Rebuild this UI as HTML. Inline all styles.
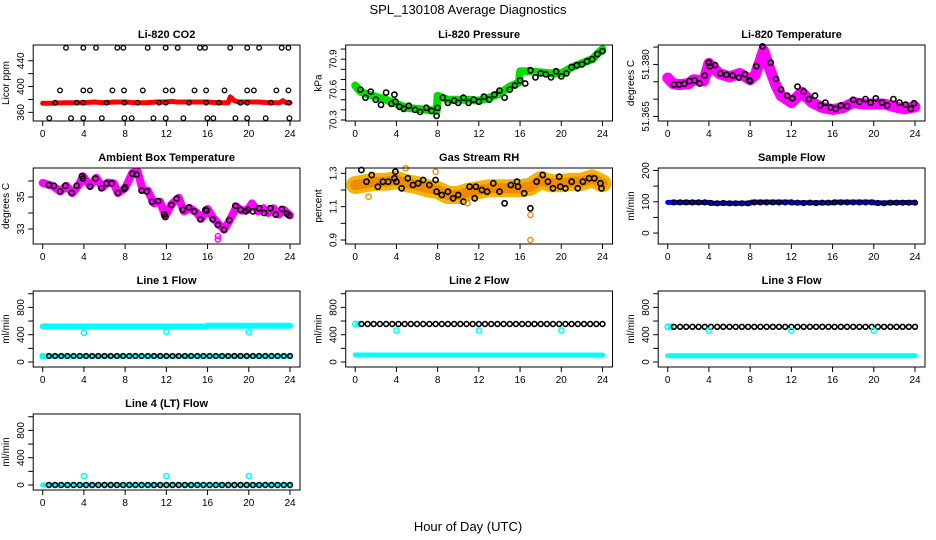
<!DOCTYPE html>
<html><head><meta charset="utf-8">
<style>
html,body{margin:0;padding:0;background:#fff;}
svg{display:block;font-family:"Liberation Sans",Arial,sans-serif;}
</style></head>
<body>
<svg id="chart" width="936" height="540" viewBox="0 0 936 540" xmlns="http://www.w3.org/2000/svg">
<text x="468" y="14" text-anchor="middle" font-size="13">SPL_130108  Average Diagnostics</text>
<text x="468" y="531" text-anchor="middle" font-size="13">Hour of Day (UTC)</text>
</svg>
<script>
// ---------- data ----------
const xTicks = [0,4,8,12,16,20,24];
const co2BandHours = [0,1,2,3,4,5,6,7,8,9,10,11,12,12.5,13,14,15,16,17,18,18.2,18.6,19,20,21,22,23,23.3,23.6,24];
const co2BandVals = [374,374,375,375,375,376,375,376,376,375,375,376,376,377,376,376,376,376,375,375,384,378,376,376,376,375,375,378,375,375];
const co2PtHours = [2.26,3.94,5.17,7.24,7.82,10.19,11.94,13.1,15.26,15.75,18.2,19.85,21.0,23.19,23.84,
 1.68,3.94,4.58,6.76,7.89,9.71,11.94,12.6,14.73,15.86,17.64,19.85,20.5,22.68,23.84,
 1.2,3.3,3.94,6.2,7.93,9.2,11.3,11.94,14.2,15.86,17.1,19.2,19.85,22.16,23.87,
 0.64,2.75,3.94,5.74,7.93,8.64,10.74,11.94,13.65,15.98,16.56,18.7,19.85,21.64,23.94];
const co2PtVals = [460,460,460,460,460,460,460,460,460,460,460,460,460,460,460,
 394,394,394,394,394,394,394,394,394,394,394,394,394,394,394,
 375,375,375,375,375,375,375,375,375,375,375,375,375,375,375,
 351,351,351,351,351,351,351,351,351,351,351,351,351,351,351];

const presBandHours = [0,0.5,1,2,3,4,5,6,7,7.9,8,9,10,11,12,13,14,15,15.9,16,17,18,19,20,21,22,23,23.5,24];
const presBandVals = [70.64,70.58,70.56,70.53,70.5,70.46,70.42,70.41,70.4,70.39,70.54,70.5,70.5,70.5,70.49,70.52,70.56,70.63,70.67,70.78,70.78,70.77,70.76,70.76,70.82,70.86,70.9,70.95,71.0];
const presPtHours = [0.5,1,1.5,2,2.5,3,3.5,3.8,3.9,4.3,4.7,5.2,5.8,6.3,6.9,7.4,7.9,8,8.5,9,9.6,10,10.5,11,11.5,12,12.5,13,13.5,14,14.5,15,15.5,16,16.5,17,17.5,18,18.5,19,19.5,20,20.5,21,21.5,22,22.5,23,23.5,24];
const presPtVals = [70.6,70.52,70.58,70.5,70.45,70.57,70.46,70.55,70.48,70.43,70.41,70.44,70.4,70.38,70.42,70.39,70.34,70.42,70.52,70.47,70.49,70.47,70.52,70.47,70.5,70.48,70.53,70.5,70.55,70.59,70.52,70.6,70.64,70.69,70.66,70.79,70.72,70.76,70.75,70.72,70.78,70.73,70.76,70.82,70.84,70.85,70.88,70.9,70.95,70.98];

const tempBandHours = [0,0.5,1,2,2.5,3.5,4,5,6,7,8,8.5,9,9.3,10,10.5,11,12,13,14,15,16,17,18,19,20,21,22,23,24];
const tempBandVals = [51.3761,51.3745,51.3742,51.3744,51.3756,51.3752,51.3803,51.3774,51.3764,51.3774,51.3756,51.3770,51.3813,51.3840,51.3780,51.3740,51.3710,51.3690,51.3720,51.3690,51.3676,51.3670,51.3675,51.3690,51.3686,51.3686,51.3686,51.3678,51.3672,51.3678];
const tempPtHours = [0.6,1.1,1.6,2.1,2.6,3.1,3.6,4.0,4.1,4.6,5.1,5.7,6.3,6.9,7.5,7.9,8.0,8.6,9.2,10.0,10.5,11.0,11.6,12.1,12.6,13.2,13.7,14.3,14.8,15.3,15.8,16.3,16.8,17.4,18.0,18.6,19.2,19.7,20.2,20.8,21.3,21.9,22.5,23.1,23.6,23.9];
const tempPtVals = [51.3742,51.3742,51.3744,51.3752,51.3754,51.3745,51.3768,51.3805,51.3795,51.3798,51.3774,51.3770,51.3768,51.3762,51.3772,51.3755,51.3752,51.3795,51.3852,51.3805,51.3758,51.3728,51.3710,51.3702,51.3736,51.3722,51.3700,51.3710,51.3682,51.3690,51.3676,51.3672,51.3682,51.3680,51.3698,51.3692,51.3700,51.3690,51.3702,51.3690,51.3682,51.3700,51.3690,51.3684,51.3672,51.3688];

const ambBandHours = [0,1,1.7,2.3,2.9,3.5,3.9,4.6,5.2,5.8,6.3,6.9,7.3,8,8.7,9.2,9.7,10.2,10.8,11.4,11.9,12.5,13.2,13.7,14.3,14.9,15.4,16,16.6,17.1,17.6,18.2,18.8,19.3,19.9,20.3,20.9,21.4,21.9,22.4,22.9,23.4,24];
const ambBandVals = [35.88,35.67,35.35,35.7,35.25,35.75,36.3,35.7,36.2,35.6,35.9,35.85,35.25,35.55,36.5,36.6,35.46,35.4,34.6,34.7,33.8,34.55,34.95,34.1,34.3,34.05,33.65,34.25,33.65,33.3,32.96,33.6,34.4,34.15,34.2,34.6,34.1,34.3,34.0,34.3,33.9,34.2,33.85];
const ambPtHours = [0.6,1.1,1.7,2.2,2.8,3.3,3.8,3.9,4.6,5.1,5.7,6.2,6.7,7.3,7.9,8.0,8.7,9.1,9.6,10.1,10.6,11.2,11.8,11.9,12.5,13.0,13.6,14.2,14.7,15.3,15.8,15.9,16.5,17.0,17.6,18.1,18.7,19.2,19.7,19.9,20.4,21.0,21.5,22.1,22.6,23.2,23.7,23.9];
const ambPtVals = [35.75,35.7,35.35,35.7,35.25,35.7,36.3,36.15,35.65,36.15,35.55,35.85,35.85,35.25,35.5,35.6,36.45,36.4,35.4,35.35,34.7,34.75,33.9,33.75,34.5,34.9,34.2,34.35,34.1,33.6,34.2,34.15,33.6,33.25,32.95,33.55,34.45,34.2,34.1,34.2,34.1,34.3,34.0,34.3,33.9,34.25,33.95,33.85];
const ambOutHours = [17.0,17.0];
const ambOutVals = [32.55,32.35];

const rhBandHours = [0,1,2,3,4,5,6,7,8,9,10,11,12,13,14,15,16,17,18,19,20,21,22,23,24];
const rhBandVals = [1.23,1.24,1.25,1.25,1.26,1.24,1.23,1.21,1.2,1.17,1.17,1.19,1.2,1.21,1.21,1.21,1.21,1.22,1.26,1.24,1.24,1.25,1.25,1.27,1.24];
const rhPtHours = [0.6,1.1,1.6,2.2,2.7,3.2,3.8,3.9,4.0,4.5,5.1,5.6,6.1,6.6,7.2,7.8,7.9,8.4,9.0,9.5,10.0,10.5,11.1,11.6,11.7,12.3,12.8,13.4,14.0,14.5,15.1,15.7,15.8,16.4,17.0,17.6,18.2,18.7,19.2,19.8,19.9,20.4,21.0,21.6,22.1,22.7,23.2,23.8,23.9];
const rhPtVals = [1.32,1.25,1.29,1.22,1.25,1.25,1.27,1.31,1.25,1.21,1.27,1.23,1.24,1.26,1.23,1.26,1.19,1.17,1.19,1.15,1.17,1.13,1.22,1.15,1.22,1.2,1.19,1.24,1.19,1.12,1.23,1.25,1.22,1.18,1.09,1.25,1.29,1.25,1.21,1.28,1.22,1.21,1.25,1.21,1.25,1.27,1.27,1.24,1.21];
const rhOutHours = [1.3,4.9,7.8,17.0,17.0,10.9];
const rhOutVals = [1.16,1.33,1.31,1.05,0.9,1.12];

const sfBandHours = [0,4,4.1,8,8.1,12,12.1,16,16.1,20,20.1,24];
const sfBandVals = [98,98,95,95,99,99,97,97,99,99,96,98];

const flowHours = [0.6,1.2,1.8,2.4,3.0,3.6,4.2,4.8,5.4,6.0,6.6,7.2,7.8,8.4,9.0,9.6,10.2,10.8,11.4,12.0,12.6,13.2,13.8,14.4,15.0,15.6,16.2,16.8,17.4,18.0,18.6,19.2,19.8,20.4,21.0,21.6,22.2,22.8,23.4,24.0];
const sfPtVals = [98,98,98,98,98,98,96,95,96,95,95,95,95,98,98,98,98,98,98,98,97,96,97,96,97,97,98,98,98,98,98,98,98,96,95,97,97,97,97,97];
const line1Black = [88,88,88,88,88,88,88,88,88,88,88,88,88,88,88,88,88,88,88,88,88,88,88,88,88,88,88,88,88,88,88,88,88,88,88,88,88,88,88,88];
const line2Black = [556,556,556,556,556,556,556,556,556,556,556,556,556,556,556,556,556,556,556,556,556,556,556,556,556,556,556,556,556,556,556,556,556,556,556,556,556,556,556,556];
const line3Black = [515,515,515,515,515,515,515,515,515,515,515,515,515,515,515,515,515,515,515,515,515,515,515,515,515,515,515,515,515,515,515,515,515,515,515,515,515,515,515,515];
const line4Black = [0,0,0,0,0,0,0,0,0,0,0,0,0,0,0,0,0,0,0,0,0,0,0,0,0,0,0,0,0,0,0,0,0,0,0,0,0,0,0,0];
const flowBandHours = [0,12,15.9,16,24];
const line1CyanHigh = [520,520,520,530,530];
const line1CyanLow = [85,85,85,85,85];
const line2CyanLow = [103,103,103,103,103];
const line3CyanLow = [92,92,92,92,92];
const line4CyanLow = [0,0,0,0,0];
const outHours = [4,12,20];
const line1Out = [427,440,435];
const line2Out = [462,462,462];
const line3Out = [460,460,460];
const line4Out = [130,130,130];
const startHours = [0,0.3];
const line2Start = [556,556];
const line3Start = [515,515];
const line1Start = [85,520];

// ---------- drawing ----------
const NS='http://www.w3.org/2000/svg';
const svg=document.getElementById('chart');
function mk(tag,attrs,parent){const e=document.createElementNS(NS,tag);for(const k in attrs)e.setAttribute(k,attrs[k]);(parent||svg).appendChild(e);return e;}

function panel(col,row,o){
  const x0=42.7+312.5*col, x24=x0+247.3;
  const L=x0-9.5, R=x24+10, T=45+123*row, B=T+76;
  const g=mk('g',{});
  
  
  const sx=h=>x0+(x24-x0)*h/24;
  const sy=v=>B-(v-o.ymin)/(o.ymax-o.ymin)*(B-T);
  const t=mk('text',{x:(L+R)/2,y:T-7,'text-anchor':'middle','font-size':'11','font-weight':'bold'},g);
  t.textContent=o.title;
  
  
  // data
  const dg=mk('g',{},g);
  
  
  (o.bands||[]).forEach(b=>{
    const pts=b.h.map((h,i)=>sx(h).toFixed(1)+','+sy(b.v[i]).toFixed(1)).join(' ');
    const pl=mk('polyline',{points:pts,fill:'none',stroke:b.c,'stroke-width':b.w,'stroke-linejoin':'round','stroke-linecap':'round'},dg);
    
    
  });
  (o.pts||[]).forEach(p=>{
    p.h.forEach((h,i)=>{
      const c=mk('circle',{cx:sx(h).toFixed(1),cy:sy(p.v[i]).toFixed(1),r:p.r||2.6,fill:'none',stroke:p.c,'stroke-width':p.sw||1.6},dg);
      
      
    });
  });
  // box
  const bx=mk('rect',{x:L,y:T,width:R-L,height:B-T,fill:'none',stroke:'#000','stroke-width':1},g);
  
  
  // x axis
  const xa=mk('g',{},g);
  
  
  xTicks.forEach(h=>{
    mk('line',{x1:sx(h),x2:sx(h),y1:B,y2:B+5,stroke:'#000'},xa);
    const tx=mk('text',{x:sx(h),y:B+16,'text-anchor':'middle','font-size':'10'},xa);
    tx.textContent=h;
  });
  // y axis
  const ya=mk('g',{},g);
  
  
  o.yticks.forEach(v=>{mk('line',{x1:L-5,x2:L,y1:sy(v),y2:sy(v),stroke:'#000'},ya);});
  o.ylabels.forEach((v,i)=>{
    const y=sy(v), x=L-9;
    const tx=mk('text',{x:x,y:y,'text-anchor':'middle','font-size':'10',transform:`rotate(-90 ${x} ${y})`},ya);
    tx.textContent=o.ylabelText?o.ylabelText[i]:v;
  });
  const yl=mk('text',{x:L-24,y:(T+B)/2,'text-anchor':'middle','font-size':'10',transform:`rotate(-90 ${L-24} ${(T+B)/2})`},g);
  yl.textContent=o.ylab;
  
  
}

panel(0,0,{name:'co2',title:'Li-820 CO2',ylab:'Licor ppm',ymin:346.6,ymax:464.4,yticks:[360,380,400,420,440],ylabels:[360,400,440],
  bands:[{h:co2BandHours,v:co2BandVals,c:'#ff0000',w:5}],
  pts:[{h:co2PtHours,v:co2PtVals,c:'#000',r:2.3,sw:1.3}]});
panel(1,0,{name:'pressure',title:'Li-820 Pressure',ylab:'kPa',ymin:70.29,ymax:71.04,yticks:[70.3,70.4,70.5,70.6,70.7,70.8,70.9,71.0],ylabels:[70.3,70.6,70.9],
  bands:[{h:presBandHours,v:presBandVals,c:'#00e000',w:8}],
  pts:[{h:presPtHours,v:presPtVals,c:'#000'}]});
panel(2,0,{name:'li820-temperature',title:'Li-820 Temperature',ylab:'degrees C',ymin:51.3637,ymax:51.3856,yticks:[51.365,51.370,51.375,51.380,51.385],ylabels:[51.365,51.380],ylabelText:['51.365','51.380'],
  bands:[{h:tempBandHours,v:tempBandVals,c:'#ff00ff',w:11}],
  pts:[{h:tempPtHours,v:tempPtVals,c:'#000'}]});
panel(0,1,{name:'ambient-temperature',title:'Ambient Box Temperature',ylab:'degrees C',ymin:32.06,ymax:36.81,yticks:[33,34,35,36],ylabels:[33,35],
  bands:[{h:ambBandHours,v:ambBandVals,c:'#ff00ff',w:8}],
  pts:[{h:ambPtHours,v:ambPtVals,c:'#000'},{h:ambOutHours,v:ambOutVals,c:'#ff00ff',sw:1.4}]});
panel(1,1,{name:'gas-rh',title:'Gas Stream RH',ylab:'percent',ymin:0.876,ymax:1.332,yticks:[0.9,1.0,1.1,1.2,1.3],ylabels:[0.9,1.1,1.3],ylabelText:['0.9','1.1','1.3'],
  bands:[{h:rhBandHours,v:rhBandVals,c:'#f4b400',w:18},{h:rhBandHours,v:rhBandVals,c:'#ef8a00',w:10}],
  pts:[{h:rhPtHours,v:rhPtVals,c:'#000'},{h:rhOutHours,v:rhOutVals,c:'#f08000',sw:1.3}]});
panel(2,1,{name:'sample-flow',title:'Sample Flow',ylab:'ml/min',ymin:-35,ymax:208,yticks:[0,50,100,150,200],ylabels:[0,100,200],
  bands:[{h:sfBandHours,v:sfBandVals,c:'#0000ff',w:5}],
  pts:[{h:flowHours,v:sfPtVals,c:'#000',r:2.3}]});
const fy={ymin:-73,ymax:1040,yticks:[0,200,400,600,800,1000],ylabels:[0,400,800]};
panel(0,2,Object.assign({name:'line1-flow',title:'Line 1 Flow',ylab:'ml/min',
  bands:[{h:flowBandHours,v:line1CyanHigh,c:'#00ffff',w:6},{h:flowBandHours,v:line1CyanLow,c:'#00ffff',w:5}],
  pts:[{h:flowHours,v:line1Black,c:'#000',r:2.3},{h:outHours,v:line1Out,c:'#00ffff',sw:1.5},{h:startHours,v:line1Start,c:'#00ffff'}]},fy));
panel(1,2,Object.assign({name:'line2-flow',title:'Line 2 Flow',ylab:'ml/min',
  bands:[{h:flowBandHours,v:line2CyanLow,c:'#00ffff',w:5}],
  pts:[{h:startHours,v:line2Start,c:'#00ffff'},{h:flowHours,v:line2Black,c:'#000',r:2.4},{h:outHours,v:line2Out,c:'#00ffff',sw:1.5}]},fy));
panel(2,2,Object.assign({name:'line3-flow',title:'Line 3 Flow',ylab:'ml/min',
  bands:[{h:flowBandHours,v:line3CyanLow,c:'#00ffff',w:5}],
  pts:[{h:startHours,v:line3Start,c:'#00ffff'},{h:flowHours,v:line3Black,c:'#000',r:2.4},{h:outHours,v:line3Out,c:'#00ffff',sw:1.5}]},fy));
panel(0,3,Object.assign({name:'line4-flow',title:'Line 4 (LT) Flow',ylab:'ml/min',
  bands:[{h:flowBandHours,v:line4CyanLow,c:'#00ffff',w:5}],
  pts:[{h:flowHours,v:line4Black,c:'#000',r:2.4},{h:outHours,v:line4Out,c:'#00ffff',sw:1.5}]},fy));
</script>
</body></html>
